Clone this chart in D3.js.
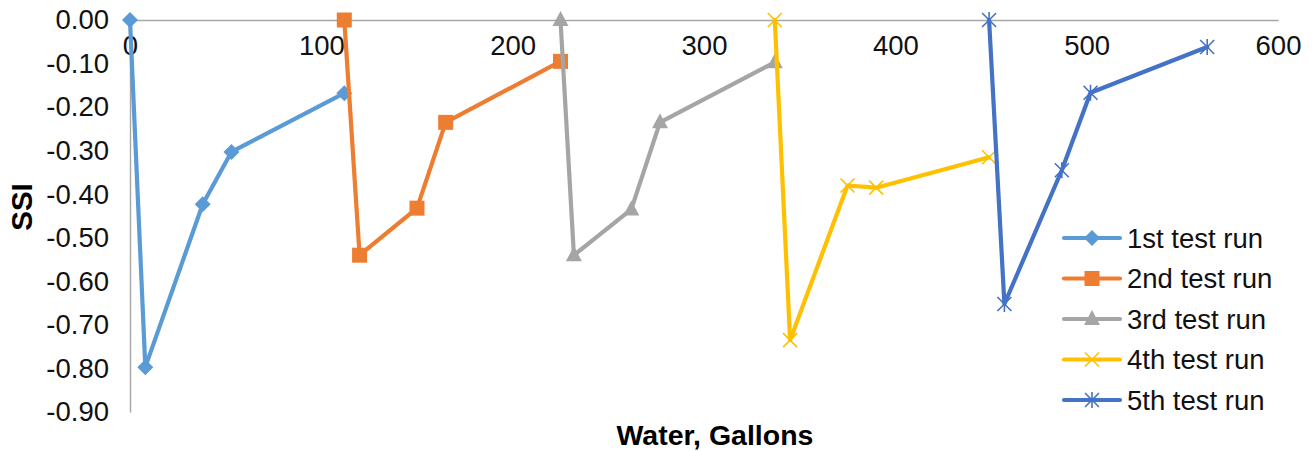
<!DOCTYPE html>
<html><head><meta charset="utf-8">
<script src="https://cdn.jsdelivr.net/npm/d3@7"></script>
<style>html,body{margin:0;padding:0;background:#fff;}svg{display:block;}</style>
</head><body>
<svg id="c" width="1316" height="452"></svg>
<script>
const seriesNames = ["1st test run","2nd test run","3rd test run","4th test run","5th test run"];
const seriesColors = ["#5B9BD5","#ED7D31","#A5A5A5","#FFC000","#4472C4"];
const seriesMarkers = ["diamond","square","triangle","x","star"];
const s1x = [0, 8, 38, 53, 112];      const s1y = [0, -0.797, -0.423, -0.303, -0.168];
const s2x = [112, 120, 150, 165, 225]; const s2y = [0, -0.54, -0.432, -0.235, -0.095];
const s3x = [225, 232, 262, 277, 337]; const s3y = [0, -0.54, -0.435, -0.235, -0.097];
const s4x = [337, 345, 375, 390, 449]; const s4y = [0, -0.735, -0.38, -0.385, -0.315];
const s5x = [449, 457, 487, 502, 563]; const s5y = [0, -0.652, -0.345, -0.167, -0.062];
const xTicks = [0,100,200,300,400,500,600];
const yTicks = [0,-0.1,-0.2,-0.3,-0.4,-0.5,-0.6,-0.7,-0.8,-0.9];
const xTitle = "Water, Gallons", yTitle = "SSI";

const allX = [s1x,s2x,s3x,s4x,s5x], allY = [s1y,s2y,s3y,s4y,s5y];
const svg = d3.select("#c");
const FONT = "'Liberation Sans', Arial, sans-serif";
const x = d3.scaleLinear().domain([0,600]).range([130,1278]);
const y = d3.scaleLinear().domain([0,-0.9]).range([20,412]);

const xa = svg.append("g").attr("transform",`translate(0,${y(0)})`)
  .call(d3.axisBottom(x).tickValues(xTicks).tickSize(0).tickPadding(25).tickFormat(d3.format("d")));
const ya = svg.append("g").attr("transform",`translate(${x(0)},0)`)
  .call(d3.axisLeft(y).tickValues(yTicks).tickSize(0).tickPadding(21)
    .tickFormat(d => (d < 0 ? "-" : "") + Math.abs(d).toFixed(2)));
[xa,ya].forEach(a=>{
  a.select(".domain").attr("stroke","#A6A6A6").attr("stroke-width",1.4);
  a.selectAll("text").attr("font-family",FONT).attr("font-size",27.5).attr("fill","#111");
});
xa.selectAll("text").attr("dy","0.35em");

svg.append("text").attr("x",715).attr("y",445).attr("text-anchor","middle")
  .attr("font-family",FONT).attr("font-size",28.5).attr("font-weight","bold").text(xTitle);
svg.append("text").attr("transform","translate(32,207) rotate(-90)").attr("text-anchor","middle")
  .attr("font-family",FONT).attr("font-size",29.5).attr("font-weight","bold").text(yTitle);

function marker(g, type, color, cx, cy){
  if(type==="diamond"){
    const r=8;
    g.append("path").attr("d",`M${cx},${cy-r}L${cx+r},${cy}L${cx},${cy+r}L${cx-r},${cy}Z`).attr("fill",color);
  } else if(type==="square"){
    g.append("rect").attr("x",cx-7.5).attr("y",cy-7.5).attr("width",15).attr("height",15).attr("fill",color);
  } else if(type==="triangle"){
    g.append("path").attr("d",`M${cx},${cy-9}L${cx+8},${cy+6}L${cx-8},${cy+6}Z`).attr("fill",color);
  } else if(type==="x"){
    const r=7;
    g.append("path").attr("d",`M${cx-r},${cy-r}L${cx+r},${cy+r}M${cx-r},${cy+r}L${cx+r},${cy-r}`).attr("stroke",color).attr("stroke-width",1.6);
  } else {
    const r=7;
    g.append("path").attr("d",`M${cx-r},${cy-r}L${cx+r},${cy+r}M${cx-r},${cy+r}L${cx+r},${cy-r}M${cx},${cy-r-1}L${cx},${cy+r+1}`).attr("stroke",color).attr("stroke-width",1.6);
  }
}

const line = d3.line().x(d=>x(d[0])).y(d=>y(d[1]));
allX.forEach((xs,i)=>{
  const pts = xs.map((v,j)=>[v, allY[i][j]]);
  const g = svg.append("g");
  g.append("path").attr("d",line(pts)).attr("fill","none").attr("stroke",seriesColors[i])
    .attr("stroke-width",4.2).attr("stroke-linejoin","round").attr("stroke-linecap","round");
  pts.forEach(p=>marker(g, seriesMarkers[i], seriesColors[i], x(p[0]), y(p[1])));
});

const lg = svg.append("g");
seriesNames.forEach((n,i)=>{
  const ly = 238 + i*40.5;
  lg.append("line").attr("x1",1064).attr("x2",1120).attr("y1",ly).attr("y2",ly)
    .attr("stroke",seriesColors[i]).attr("stroke-width",4.2).attr("stroke-linecap","round");
  marker(lg, seriesMarkers[i], seriesColors[i], 1092, ly);
  lg.append("text").attr("x",1127).attr("y",ly).attr("dy","0.35em")
    .attr("font-family",FONT).attr("font-size",27.5).attr("fill","#111").text(n);
});
</script>
</body></html>
